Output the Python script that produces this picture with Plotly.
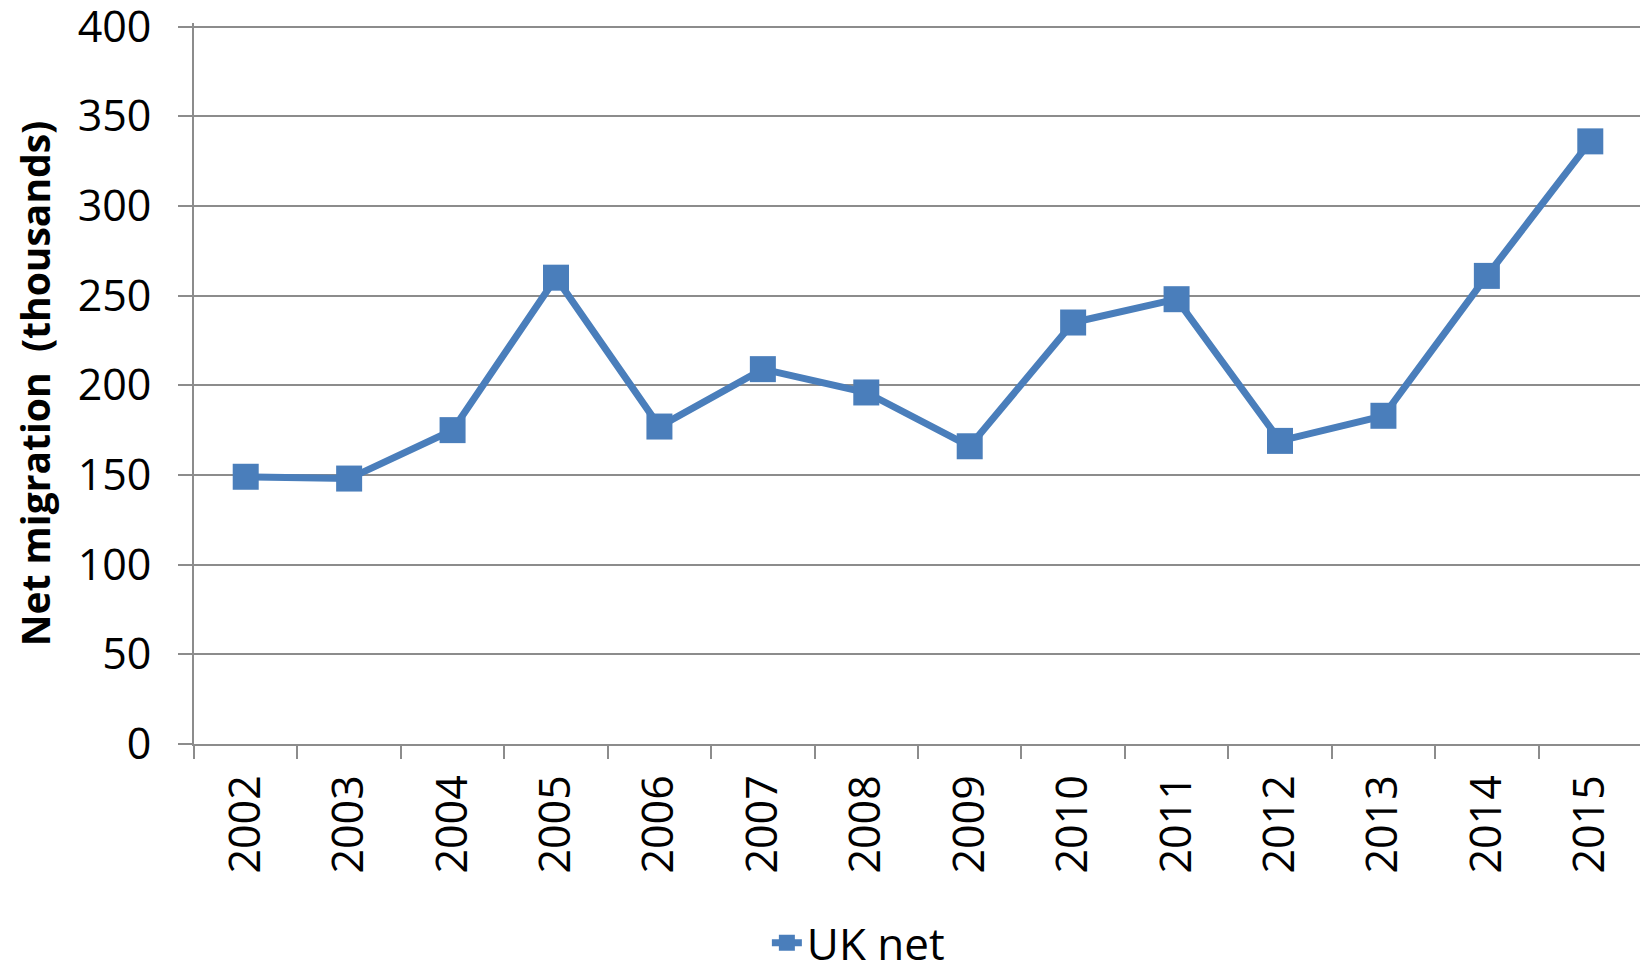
import plotly.graph_objects as go

years = ["2002", "2003", "2004", "2005", "2006", "2007", "2008",
         "2009", "2010", "2011", "2012", "2013", "2014", "2015"]
uk_net = [149, 148, 175, 260, 177, 209, 196, 166, 235, 248, 169, 183, 261, 336]
y_ticks = [0, 50, 100, 150, 200, 250, 300, 350, 400]

BLUE = "#4A7EBB"
GRID = "#8C8C8C"
FONT = "Open Sans"

fig = go.Figure()
fig.add_trace(go.Scatter(
    x=years, y=uk_net, name="UK net", mode="lines+markers",
    line=dict(color=BLUE, width=7),
    marker=dict(symbol="square", size=26, color=BLUE),
    cliponaxis=False,
))

fig.update_layout(
    width=1648, height=970,
    margin=dict(l=186, r=14, t=15, b=234, autoexpand=False),
    paper_bgcolor="white", plot_bgcolor="white",
    font=dict(family=FONT, color="#000000", size=43),
    showlegend=True,
    legend=dict(orientation="h", xref="container", yref="container",
                x=0.516, xanchor="center", y=0.036, yanchor="middle",
                font=dict(size=44, family=FONT),
                bgcolor="rgba(0,0,0,0)"),
)
fig.update_xaxes(
    type="category", range=[-0.5, len(years) - 0.5],
    tickangle=-90, tickson="boundaries",
    ticks="outside", ticklen=13, tickcolor=GRID, tickwidth=2,
    showline=True, linecolor=GRID, linewidth=2,
    showgrid=False, ticklabelstandoff=12, automargin=False,
    tickfont=dict(size=43, family=FONT),
)
fig.update_yaxes(
    range=[0, 402], tickvals=y_ticks,
    ticks="outside", ticklen=14, tickcolor=GRID, tickwidth=2,
    showline=True, linecolor=GRID, linewidth=2,
    showgrid=True, gridcolor=GRID, gridwidth=2,
    zeroline=False, ticklabelstandoff=18, automargin=False,
    ticklabeloverflow="allow",
    tickfont=dict(size=43, family=FONT),
    title=dict(text="<b>Net migration  (thousands)</b>",
               font=dict(size=39, family=FONT), standoff=15),
)

fig.write_html("out.html")
